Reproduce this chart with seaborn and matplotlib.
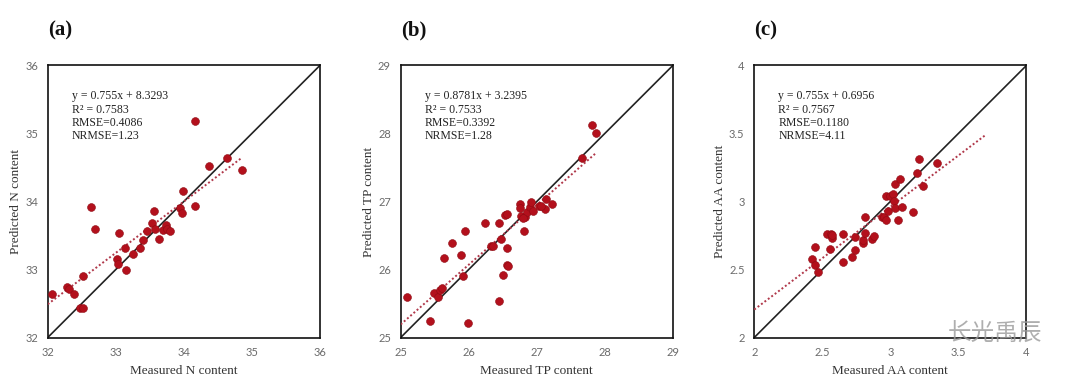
import numpy as np
import pandas as pd
import matplotlib
matplotlib.use("Agg")
import matplotlib.pyplot as plt
import seaborn as sns

# ---------------- data ----------------
n_measured = [32.07, 32.29, 32.31, 32.39, 32.52, 32.48, 32.52, 32.63, 32.69, 33.02,
              33.03, 33.05, 33.15, 33.13, 33.25, 33.35, 33.40, 33.46, 33.53, 33.56,
              33.57, 33.63, 33.70, 33.74, 33.76, 33.79, 33.94, 33.97, 33.99, 34.17,
              34.16, 34.37, 34.64, 34.85]
n_predicted = [32.64, 32.74, 32.72, 32.64, 32.90, 32.43, 32.43, 33.92, 33.59, 33.16,
               33.08, 33.54, 32.99, 33.32, 33.23, 33.32, 33.44, 33.56, 33.68, 33.86,
               33.59, 33.45, 33.58, 33.65, 33.59, 33.57, 33.90, 33.83, 34.15, 33.93,
               35.19, 34.52, 34.64, 34.47]

tp_measured = [25.09, 25.43, 25.49, 25.55, 25.58, 25.60, 25.63, 25.76, 25.89, 25.92,
               25.95, 25.99, 26.24, 26.33, 26.36, 26.44, 26.45, 26.48, 26.51, 26.53,
               26.56, 26.56, 26.56, 26.58, 26.75, 26.76, 26.77, 26.81, 26.83, 26.85,
               26.90, 26.92, 26.94, 27.03, 27.14, 27.12, 27.22, 27.66, 27.81, 27.87,
               26.80, 27.06]
tp_predicted = [25.59, 25.25, 25.66, 25.60, 25.70, 25.73, 26.17, 26.39, 26.21, 25.91,
                26.57, 25.22, 26.68, 26.35, 26.35, 25.54, 26.69, 26.45, 25.92, 26.80,
                26.82, 26.31, 26.07, 26.05, 26.97, 26.91, 26.79, 26.57, 26.77, 26.84,
                26.92, 26.99, 26.86, 26.94, 27.03, 26.89, 26.97, 27.64, 28.13, 28.00,
                26.76, 26.93]

aa_measured = [2.424, 2.444, 2.446, 2.471, 2.532, 2.559, 2.561, 2.568, 2.573, 2.651,
               2.651, 2.717, 2.737, 2.737, 2.798, 2.802, 2.815, 2.817, 2.866, 2.878,
               2.939, 2.956, 2.968, 2.971, 2.980, 2.998, 3.017, 3.027, 3.037, 3.037,
               3.059, 3.068, 3.085, 3.163, 3.193, 3.212, 3.237, 3.341]
aa_predicted = [2.579, 2.533, 2.667, 2.483, 2.761, 2.648, 2.761, 2.729, 2.753, 2.761,
                2.555, 2.589, 2.643, 2.739, 2.697, 2.717, 2.888, 2.766, 2.724, 2.746,
                2.888, 2.888, 2.864, 3.043, 2.933, 3.043, 3.055, 3.004, 2.950, 3.129,
                2.864, 3.163, 2.962, 2.920, 3.212, 3.315, 3.114, 3.281]

panel_labels = ["(a)", "(b)", "(c)"]
x_labels = ["Measured N content", "Measured TP content", "Measured AA content"]
y_labels = ["Predicted N content", "Predicted TP content", "Predicted AA content"]
axis_limits = [(32, 36), (25, 29), (2, 4)]
axis_ticks = [[32, 33, 34, 35, 36], [25, 26, 27, 28, 29], [2, 2.5, 3, 3.5, 4]]
fit_slope = [0.755, 0.8781, 0.755]
fit_intercept = [8.3293, 3.2395, 0.6956]
fit_x_range = [(32.0, 34.85), (25.0, 27.88), (2.0, 3.695)]
stats_text = [
    ["y = 0.755x + 8.3293", "R\u00b2 = 0.7583", "RMSE=0.4086", "NRMSE=1.23"],
    ["y = 0.8781x + 3.2395", "R\u00b2 = 0.7533", "RMSE=0.3392", "NRMSE=1.28"],
    ["y = 0.755x + 0.6956", "R\u00b2 = 0.7567", "RMSE=0.1180", "NRMSE=4.11"],
]
watermark = "\u957f\u5149\u79b9\u8fb0"
measured = [n_measured, tp_measured, aa_measured]
predicted = [n_predicted, tp_predicted, aa_predicted]

# ---------------- style ----------------
sns.set_theme(style="white")
plt.rcParams["font.family"] = ["Liberation Serif", "DejaVu Serif"]

fig = plt.figure(figsize=(10.8, 3.92), dpi=100)
lefts = [0.0442, 0.3710, 0.6984]
point_color = "#B3101C"
fit_color = "#B0384A"

for i in range(3):
    ax = fig.add_axes([lefts[i], 0.139, 0.252, 0.694])
    df = pd.DataFrame({"m": measured[i], "p": predicted[i]})
    lo, hi = axis_limits[i]
    # 1:1 line
    ax.plot([lo, hi], [lo, hi], color="#222222", lw=1.2, zorder=2)
    # regression line
    fx = np.array(fit_x_range[i])
    fdf = pd.DataFrame({"x": fx, "y": fit_slope[i] * fx + fit_intercept[i]})
    sns.lineplot(data=fdf, x="x", y="y", ax=ax, color=fit_color, lw=1.4,
                 linestyle=(0, (1, 1.2)), zorder=3)
    sns.scatterplot(data=df, x="m", y="p", ax=ax, s=32, color=point_color,
                    edgecolor="#8E0A12", linewidth=0.4, zorder=4)
    ax.set_xlim(lo, hi)
    ax.set_ylim(lo, hi)
    ax.set_xticks(axis_ticks[i])
    ax.set_yticks(axis_ticks[i])
    ax.set_xticklabels([f"{t:g}" for t in axis_ticks[i]])
    ax.set_yticklabels([f"{t:g}" for t in axis_ticks[i]])
    ax.tick_params(direction="in", length=3, width=0.8, colors="#333333",
                   labelcolor="#6a6a6a", labelsize=8, pad=7)
    for lab in ax.get_xticklabels() + ax.get_yticklabels():
        lab.set_family(["Lato", "DejaVu Sans"])
    for sp in ax.spines.values():
        sp.set_color("#111111")
        sp.set_linewidth(1.2)
    ax.set_xlabel(x_labels[i], fontsize=9.5, color="#333333", labelpad=5)
    ax.set_ylabel(y_labels[i], fontsize=9.5, color="#333333", labelpad=2)
    ys = [0.886, 0.836, 0.789, 0.741]
    for line, yy in zip(stats_text[i], ys):
        ax.text(0.088, yy, line, transform=ax.transAxes, fontsize=8.5,
                color="#222222", va="center", ha="left")
    ax.text(0.0, 1.13, panel_labels[i], transform=ax.transAxes, fontsize=15,
            fontweight="bold", color="#111111", va="center", ha="left")

# watermark
fig.text(0.965, 0.148, watermark, fontsize=17, color="#9a9a9a",
         alpha=0.8, ha="right", va="center",
         family=["Noto Sans CJK SC", "DejaVu Sans"])

fig.savefig("out.png", dpi=100)
